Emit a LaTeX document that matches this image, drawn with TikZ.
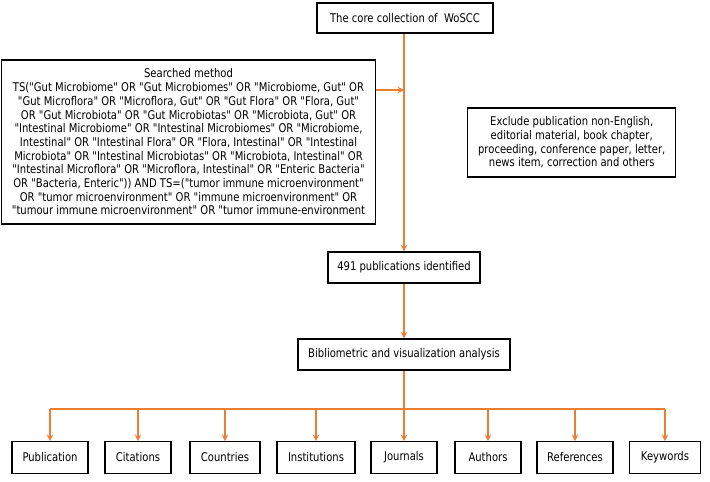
\documentclass[tikz,border=0pt]{standalone}
\usepackage{fontspec}
\setmainfont[FakeStretch=0.835, Ligatures=TeXOff]{DejaVu Sans}
\usetikzlibrary{arrows.meta}
\definecolor{orng}{HTML}{ED7D31}
\tikzset{
  box/.style={draw=black, line width=1.4pt, align=center, inner sep=2pt, font=\fontsize{12}{13.7}\selectfont},
  arr/.style={draw=orng, line width=1.8pt, -{Stealth[length=6.5pt,width=6.5pt]}},
  ln/.style={draw=orng, line width=1.8pt}
}
\begin{document}
\begin{tikzpicture}[x=1pt,y=-1pt]
\useasboundingbox (0,0) rectangle (710,482);
\node[box, minimum width=176pt, minimum height=30pt] (top) at (405,18) {The core collection of\ \ WoSCC};
\node[box, minimum width=374pt, minimum height=164pt] (search) at (188.5,142) {Searched method\\
TS("Gut Microbiome" OR "Gut Microbiomes" OR "Microbiome, Gut" OR\\
"Gut Microflora" OR "Microflora, Gut" OR "Gut Flora" OR "Flora, Gut"\\
OR "Gut Microbiota" OR "Gut Microbiotas" OR "Microbiota, Gut" OR\\
"Intestinal Microbiome" OR "Intestinal Microbiomes" OR "Microbiome,\\
Intestinal" OR "Intestinal Flora" OR "Flora, Intestinal" OR "Intestinal\\
Microbiota" OR "Intestinal Microbiotas" OR "Microbiota, Intestinal" OR\\
"Intestinal Microflora" OR "Microflora, Intestinal" OR "Enteric Bacteria"\\
OR "Bacteria, Enteric")) AND TS=("tumor immune microenvironment"\\
OR "tumor microenvironment" OR "immune microenvironment" OR\\
"tumour immune microenvironment" OR "tumor immune-environment};
\node[box, minimum width=208pt, minimum height=69pt] (excl) at (571.7,142.3) {Exclude publication non-English,\\ editorial material, book chapter,\\ proceeding, conference paper, letter,\\ news item, correction and others};
\node[box, minimum width=152pt, minimum height=31pt] (ident) at (404,267.5) {491 publications identified};
\node[box, minimum width=212pt, minimum height=31pt] (biblio) at (404,354.5) {Bibliometric and visualization analysis};
\foreach \n/\t/\c/\w in {pub/Publication/50/76, cit/Citations/138/66, cou/Countries/225/70, ins/Institutions/316/78, jou/Journals/404/66, aut/Authors/488/66, ref/References/575/76, key/Keywords/665/71}{
  \node[box, minimum width=\w pt, minimum height=31.5pt] (\n) at (\c,457.5) {\t};
}
\coordinate (j) at (404,90);
\coordinate (hb) at (404,409);
\draw[arr] (top.south -| j) -- (ident.north -| j);
\draw[arr] (search.east |- j) -- (j);
\draw[arr] (ident) -- (biblio);
\draw[ln] (biblio.south -| hb) -- (hb);
\draw[ln] (pub.north |- hb) -- (key.north |- hb);
\foreach \n in {pub,cit,cou,ins,jou,aut,ref,key}{
  \draw[arr] (\n.north |- hb) -- (\n.north);
}
\end{tikzpicture}
\end{document}
